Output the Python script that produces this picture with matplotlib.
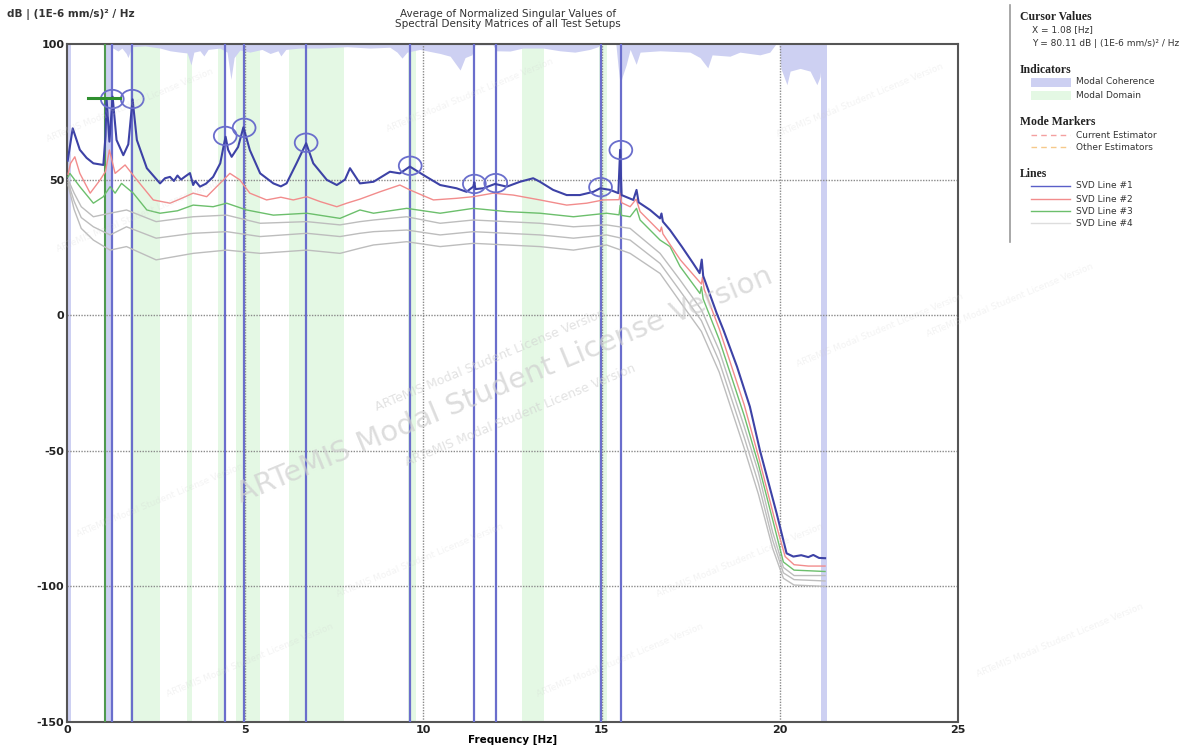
import matplotlib
matplotlib.use("Agg")
import matplotlib.pyplot as plt
from matplotlib.patches import Ellipse, Rectangle
from matplotlib.lines import Line2D

plt.rcParams["axes.unicode_minus"] = False

# SVD lines (frequency [Hz], dB)
svd1_f = [0.02, 0.16, 0.36, 0.55, 0.74, 1.02, 1.08, 1.11, 1.19, 1.28, 1.39, 1.58, 1.72, 1.84, 1.96,
          2.24, 2.61, 2.75, 2.89, 3.0, 3.1, 3.2, 3.3, 3.45, 3.54, 3.6, 3.73, 3.9, 4.1, 4.3, 4.39,
          4.45, 4.52, 4.62, 4.8, 4.95, 5.13, 5.42, 5.79, 6.0, 6.16, 6.44, 6.71, 6.91, 7.29, 7.57,
          7.8, 7.94, 8.22, 8.6, 9.06, 9.34, 9.62, 10.0, 10.47, 10.93, 11.21, 11.4, 11.43, 11.46,
          11.68, 12.01, 12.34, 12.71, 13.08, 13.27, 13.64, 14.02, 14.39, 14.77, 14.96, 15.24,
          15.47, 15.52, 15.56, 15.89, 15.98, 16.04, 16.36, 16.64, 16.68, 16.72, 16.92, 17.25,
          17.57, 17.75, 17.81, 17.85, 18.23, 18.42, 18.8, 19.16, 19.44, 19.91, 20.19, 20.38,
          20.6, 20.8, 20.94, 21.1, 21.27]
svd1_db = [57, 68.9, 61, 58, 56, 55.4, 66, 80, 64, 80.6, 64.6, 59, 63, 79.6, 64.6,
           54.2, 48.6, 50.5, 51, 49.5, 51.5, 50, 51, 52.4, 48, 49.5, 47.4, 48.5, 51, 56, 62.1,
           65.8, 61, 58.4, 62, 69.3, 60.9, 52.3, 48.6, 47.5, 48.6, 56, 63.4, 56, 49.9, 48,
           50, 54.2, 48.6, 49.2, 52.9, 52.3, 54.8, 51.7, 48, 46.8, 45.5, 47.4, 49, 46.5,
           46.8, 48.4, 47.4, 49.2, 50.5, 49.2, 46.2, 44.3, 44.3, 45.5, 46.8, 46.2,
           45, 61, 44.3, 42.5, 46.2, 41.6, 38.8, 35.7, 37.5, 34.5, 31.4, 25.3,
           19.1, 15.5, 20.5, 14.5, 0.7, -5.5, -19, -33.7, -49.7, -73, -87.8, -89,
           -88.5, -89.2, -88.4, -89.5, -89.6]

svd2_f = [0.03, 0.1, 0.22, 0.36, 0.65, 0.93, 1.08, 1.19, 1.35, 1.63, 1.96, 2.42, 2.89, 3.2, 3.54,
          3.92, 4.39, 4.57, 4.85, 5.13, 5.6, 6.0, 6.35, 6.73, 7.1, 7.57, 7.85, 8.22, 8.78, 9.34,
          9.62, 10.28, 10.93, 11.4, 11.96, 12.52, 13.27, 14.02, 14.58, 15.05, 15.49, 15.52,
          15.56, 15.8, 15.97, 16.08, 16.64, 16.68, 16.72, 17.21, 17.8, 17.83, 17.88, 18.3,
          19.0, 19.4, 19.85, 20.15, 20.4, 20.8, 21.27]
svd2_db = [52, 56, 58.4, 52.3, 45, 49.9, 53, 60.9, 52.3, 55.4, 49.9, 42.5, 41.3, 43, 45,
           43.7, 49.9, 52.3, 49.9, 45, 42.5, 43.5, 42.5, 43.7, 41.9, 40, 41.3, 42.8, 45.5, 48,
           46.2, 42.5, 43.1, 43.7, 45, 44.3, 42.5, 40.6, 41.3, 42.5, 42.6, 45,
           41.5, 40, 42.8, 38.2, 30.8, 32.5, 30, 20.4, 11.5, 14, 9.5, -5,
           -33, -52, -75, -89, -92, -92.5, -92.5]

svd3_f = [0.03, 0.08, 0.36, 0.74, 1.02, 1.21, 1.35, 1.53, 1.86, 2.24, 2.61, 3.1, 3.54, 4.1, 4.48,
          5.04, 5.79, 6.73, 7.66, 8.22, 8.6, 9.53, 10.47, 11.4, 12.34, 13.27, 14.21, 15.14,
          15.49, 15.52, 15.56, 15.8, 15.98, 16.08, 16.64, 16.92, 17.2, 17.76, 17.8, 17.85,
          18.3, 19.0, 19.4, 19.85, 20.1, 20.4, 21.27]
svd3_db = [51, 52.3, 47.4, 41.3, 43.7, 47.4, 45, 48.6, 45, 38.8, 37.6, 38.5, 40.6, 40, 41.3,
           38.8, 36.9, 37.6, 35.7, 38.8, 37.6, 39.4, 37.6, 39.4, 38.2, 37.6, 36.3, 37.6,
           37, 40.5, 36.8, 36.3, 39.4, 35.1, 27.7, 25.3, 18, 8, 10.5, 6,
           -9, -37, -55, -78, -91, -94, -94.5]

gray_f = [0.03, 0.2, 0.4, 0.74, 1.21, 1.67, 2.5, 3.54, 4.48, 5.42, 6.73, 7.66, 8.22, 8.6, 9.53,
          10.47, 11.4, 12.34, 13.27, 14.21, 15.14, 15.8, 16.64, 17.2, 17.8, 18.3, 19.0, 19.4,
          19.8, 20.1, 20.4, 21.27]
svd4_db = [50, 45, 40, 36.3, 37.6, 38.8, 34.5, 36.3, 36.9, 33.9, 34.5, 33.3, 34.5, 35.1, 36.3,
           33.9, 35.1, 34.5, 33.9, 32.6, 33.3, 32, 22.8, 13, 2, -13, -41, -58,
           -80, -93, -96, -96]
svd5_db = [49, 42, 36, 32.6, 29.6, 32.6, 28.4, 30.2, 30.8, 29, 30.2, 29, 30.2, 30.8, 31.4,
           29.6, 30.8, 30.2, 29.6, 28.4, 29.6, 27.7, 19.1, 9, -2, -17, -45, -62,
           -83, -95, -97.5, -98]
svd6_db = [48, 39, 32, 27.7, 24, 25.3, 20.4, 22.8, 24, 22.8, 24, 22.8, 24.7, 25.9, 27.1,
           25.3, 26.5, 25.9, 25.3, 24, 25.9, 22.8, 15.4, 5, -6, -21, -49, -66,
           -86, -97, -99.5, -100]

# modal domain bands (green) and full-height coherence stripes [Hz]
domain_lo = [1.77, 3.37, 4.25, 4.74, 6.23, 9.58, 12.77, 14.94]
domain_hi = [2.61, 3.52, 4.42, 5.42, 7.77, 9.78, 13.38, 15.15]
coh_band_lo = [0.0, 1.08, 21.15]
coh_band_hi = [0.12, 1.28, 21.32]

# modal coherence strip along the top: depth below 100 dB line
coh_f = [0.0, 0.93, 1.29, 1.43, 1.54, 1.66, 1.71, 1.82, 2.19, 2.61, 2.89, 3.17, 3.37, 3.48,
         3.56, 3.73, 3.84, 3.96, 4.29, 4.49, 4.6, 4.69, 4.85, 5.13, 5.47, 5.7, 5.92, 6.0,
         6.14, 6.54, 7.1, 7.86, 8.5, 9.06, 9.26, 9.4, 9.54, 9.9, 10.47, 10.75, 11.03, 11.17,
         11.36, 11.45, 11.95, 12.04, 12.43, 12.79, 13.36, 13.83, 14.25, 14.67, 14.9, 14.96,
         15.4, 15.46, 15.52, 15.58, 15.69, 15.8, 15.97, 16.08, 16.64, 17.48, 17.76, 17.98,
         18.1, 18.6, 18.88, 19.44, 19.72, 19.89, 19.98, 20.03, 20.2, 20.29, 20.57, 20.85,
         21.04, 21.13, 21.21]
coh_depth = [0, 0, 1.5, 2.6, 1.5, 3.5, 5, 1, 0.7, 1.5, 2.5, 3, 3.3, 7.7,
             3, 2.5, 4.4, 2, 1.5, 3, 13, 5, 2.2, 3, 2, 3.5, 2.5, 4.4,
             2, 1.5, 1.5, 1, 1.5, 1.2, 3, 5.2, 3, 2, 3.5, 4.5, 9.6, 5,
             4, 0.3, 0.3, 2.5, 2.6, 1.5, 1.5, 2.5, 3, 2, 1, 0,
             0, 8, 15, 12, 7.7, 2, 7.5, 3, 2.5, 3, 5, 8.8,
             4, 4.5, 3, 4, 3, 0, 0, 9, 15, 10, 9, 10,
             15, 12, 0]

# picked modes (circles + vertical markers)
mode_f = [1.27, 1.83, 4.44, 4.97, 6.71, 9.63, 11.43, 12.03, 14.97, 15.54]
mode_db = [79.7, 79.7, 66.1, 69.1, 63.6, 55.1, 48.4, 48.7, 47.2, 60.9]

cursor_x = 1.08
cursor_y = 80.11

BLUE = "#3d42a6"
MARK = "#6a6ecc"
RED = "#f28c8c"
GREEN = "#6cbf6c"
GRAY = "#bdbdbd"
LAV = "#cdd0f2"
MINT = "#e4f8e4"

WM = "ARTeMIS Modal Student License Version"


def draw_watermarks(fig):
    kw = dict(color="#cfcfcf", rotation=22.5, ha="center", va="center", zorder=0,
              family="DejaVu Sans")
    fig.text(505 / 1196, 1 - 385 / 745, WM, fontsize=21, alpha=0.7, **kw)
    fig.text(490 / 1196, 1 - 360 / 745, WM, fontsize=9, alpha=0.6, **kw)
    fig.text(520 / 1196, 1 - 415 / 745, WM, fontsize=9, alpha=0.6, **kw)
    small = [(130, 105), (470, 95), (860, 100), (140, 215), (880, 330), (160, 500),
             (250, 660), (620, 660), (1010, 300), (1060, 640), (420, 560), (740, 560)]
    for x, y in small:
        fig.text(x / 1196, 1 - y / 745, WM, fontsize=6.5, alpha=0.25, **kw)


def main():
    fig = plt.figure(figsize=(11.96, 7.45), dpi=100)
    ax = fig.add_axes([67 / 1196, 1 - 722 / 745, (958 - 67) / 1196, (722 - 44) / 745])
    ax.set_xlim(0, 25)
    ax.set_ylim(-150, 100)
    ax.patch.set_alpha(0)

    for lo, hi in zip(domain_lo, domain_hi):
        ax.axvspan(lo, hi, color=MINT, lw=0, zorder=1)
    for lo, hi in zip(coh_band_lo, coh_band_hi):
        ax.axvspan(lo, hi, color=LAV, lw=0, zorder=1)
    ax.fill_between(coh_f, [100 - d for d in coh_depth], 100, color=LAV, lw=0, zorder=1)

    for v in [5, 10, 15, 20]:
        ax.axvline(v, color="#8a8a8a", lw=1, ls=(0, (1, 1)), zorder=2)
    for v in [50, 0, -50, -100]:
        ax.axhline(v, color="#8a8a8a", lw=1, ls=(0, (1, 1)), zorder=2)

    for f in mode_f:
        ax.axvline(f, color=MARK, lw=1.6, zorder=3)
    ax.axvline(cursor_x, color="#4f9a4f", lw=1.5, zorder=3)

    ax.plot(gray_f, svd6_db, color=GRAY, lw=1, zorder=4)
    ax.plot(gray_f, svd5_db, color=GRAY, lw=1, zorder=4)
    ax.plot(gray_f, svd4_db, color=GRAY, lw=1, zorder=4)
    ax.plot(svd3_f, svd3_db, color=GREEN, lw=1, zorder=5)
    ax.plot(svd2_f, svd2_db, color=RED, lw=1, zorder=5)
    ax.plot(svd1_f, svd1_db, color=BLUE, lw=1.5, zorder=6)

    for f, d in zip(mode_f, mode_db):
        ax.add_patch(Ellipse((f, d), 0.64, 6.8, fill=False, ec=MARK, lw=1.3, zorder=7))
    ax.plot([cursor_x - 0.49, cursor_x + 0.41], [cursor_y, cursor_y], color="#2f8f2f",
            lw=2.2, zorder=7)

    ax.set_xticks([0, 5, 10, 15, 20, 25])
    ax.set_yticks([100, 50, 0, -50, -100, -150])
    ax.tick_params(length=0, labelsize=8, pad=2, colors="#222222")
    for lab in ax.get_xticklabels() + ax.get_yticklabels():
        lab.set_fontweight("bold")
    for s in ax.spines.values():
        s.set_color("#555555")
        s.set_linewidth(1.5)
    ax.set_xlabel("Frequency [Hz]", fontsize=7.5, fontweight="bold", labelpad=0)

    fig.text(7 / 1196, 1 - 15 / 745, "dB | (1E-6 mm/s)² / Hz", fontsize=7.5,
             fontweight="bold", va="center", color="#333333")
    fig.text(508 / 1196, 1 - 19 / 745,
             "Average of Normalized Singular Values of\nSpectral Density Matrices of all Test Setups",
             fontsize=7.5, ha="center", va="center", color="#333333", linespacing=1.1)

    draw_watermarks(fig)

    # right-hand panel
    fig.add_artist(Line2D([1010 / 1196, 1010 / 1196], [1 - 5 / 745, 1 - 242 / 745],
                          color="#9a9a9a", lw=1.2))
    head = dict(fontsize=8.5, fontweight="bold", family="Liberation Serif", va="center",
                color="#222222")
    body = dict(fontsize=6.5, va="center", color="#333333")
    px = lambda x: x / 1196
    py = lambda y: 1 - y / 745
    fig.text(px(1020), py(17), "Cursor Values", **head)
    fig.text(px(1032), py(30), "X = 1.08 [Hz]", **body)
    fig.text(px(1032), py(43), "Y = 80.11 dB | (1E-6 mm/s)² / Hz", **body)
    fig.text(px(1020), py(70), "Indicators", **head)
    fig.add_artist(Rectangle((px(1031), py(87)), px(40), 9 / 745, color=LAV, lw=0))
    fig.text(px(1076), py(82), "Modal Coherence", **body)
    fig.add_artist(Rectangle((px(1031), py(100)), px(40), 9 / 745, color=MINT, lw=0))
    fig.text(px(1076), py(95), "Modal Domain", **body)
    fig.text(px(1020), py(122), "Mode Markers", **head)
    fig.add_artist(Line2D([px(1031), px(1070)], [py(135), py(135)], color="#f4a0a0",
                          lw=1, ls=(0, (4, 3))))
    fig.text(px(1076), py(135), "Current Estimator", **body)
    fig.add_artist(Line2D([px(1031), px(1070)], [py(147), py(147)], color="#f6c98a",
                          lw=1, ls=(0, (4, 3))))
    fig.text(px(1076), py(147), "Other Estimators", **body)
    fig.text(px(1020), py(174), "Lines", **head)
    for i, (c, y) in enumerate(zip(["#5a5fc8", RED, GREEN, "#dddddd"], [186, 199, 211, 223])):
        fig.add_artist(Line2D([px(1031), px(1070)], [py(y), py(y)], color=c, lw=1))
        fig.text(px(1076), py(y), "SVD Line #%d" % (i + 1), **body)

    fig.savefig("out.png", dpi=100)
    plt.close(fig)


if __name__ == "__main__":
    main()
